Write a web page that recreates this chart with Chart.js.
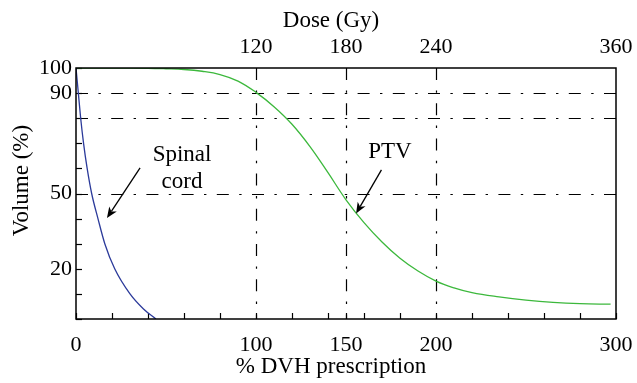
<!DOCTYPE html>
<html>
<head>
<meta charset="utf-8">
<script src="https://cdn.jsdelivr.net/npm/chart.js@4"></script>
<style>
  html, body { margin: 0; padding: 0; background: #fff; }
  #c { display: block; }
</style>
</head>
<body>
<canvas id="c" width="637" height="383"></canvas>
<script>
// ---- data ----
const cordX = [0, 1.3, 2.6, 4.2, 6.2, 8.7, 12.2, 16, 21.5, 30, 37.5, 44.4];
const cordY = [100, 90, 80, 70, 60, 50, 40, 30, 20, 10, 4, 0];

const ptvX = [0, 20, 40, 50, 60, 70, 80, 90, 100, 110, 120, 130, 140, 150, 160, 170, 180, 190, 200, 210, 220, 235, 250, 265, 280, 297];
const ptvY = [100, 100, 99.9, 99.7, 99.4, 98.7, 97.4, 94.8, 90.3, 84.6, 77.6, 68.7, 58.3, 47.5, 38.4, 30.7, 24.2, 19.1, 15.1, 12.4, 10.5, 8.8, 7.5, 6.6, 6.1, 5.9];

const xTickValues = [0,20,40,60,80,100,120,140,150,160,180,200,220,240,260,280,300];
const xTickLabels = [0, 100, 150, 200, 300];
const doseTickLabels = [120, 180, 240, 360];
const yTickValues = [0,10,20,30,40,50,60,70,80,90,100];
const yTickLabels = [100, 90, 50, 20];
const refX = [100, 150, 200];
const refY = [90, 80, 50];

const titleX = '% DVH prescription';
const titleTop = 'Dose (Gy)';
const titleY = 'Volume (%)';
const labelSpinal = ['Spinal', 'cord'];
const labelPTV = 'PTV';

// ---- chart ----
const FONT = "'Liberation Serif', 'Times New Roman', serif";
const tickFont = { family: FONT, size: 22 };

const toPts = (xs, ys) => xs.map((x, i) => ({ x, y: ys[i] }));

const decor = {
  id: 'decor',
  beforeDatasetsDraw(chart) {
    const { ctx, chartArea: a, scales: { x, y } } = chart;
    ctx.save();
    ctx.strokeStyle = '#000';
    ctx.lineWidth = 1.2;
    ctx.setLineDash([12, 10.4, 2.4, 10.4]);
    refY.forEach(v => {
      const py = Math.round(y.getPixelForValue(v)) + 0.5;
      ctx.beginPath(); ctx.moveTo(a.left, py); ctx.lineTo(a.right, py); ctx.stroke();
    });
    refX.forEach(v => {
      const px = Math.round(x.getPixelForValue(v)) + 0.5;
      ctx.beginPath(); ctx.moveTo(px, a.top); ctx.lineTo(px, a.bottom); ctx.stroke();
    });
    ctx.setLineDash([]);
    yTickValues.forEach(v => {
      const py = Math.round(y.getPixelForValue(v)) + 0.5;
      ctx.beginPath(); ctx.moveTo(a.left, py); ctx.lineTo(a.left + 6, py); ctx.stroke();
    });
    xTickValues.forEach(v => {
      const px = Math.round(x.getPixelForValue(v)) + 0.5;
      ctx.beginPath(); ctx.moveTo(px, a.bottom); ctx.lineTo(px, a.bottom - 6); ctx.stroke();
    });
    ctx.restore();
  },
  afterDatasetsDraw(chart) {
    const { ctx, chartArea: a, scales: { x, y } } = chart;
    ctx.save();
    ctx.strokeStyle = '#000';
    ctx.lineWidth = 1.5;
    ctx.strokeRect(a.left, a.top, a.right - a.left, a.bottom - a.top);

    ctx.fillStyle = '#000';
    ctx.font = `23px ${FONT}`;
    ctx.textAlign = 'center';
    ctx.textBaseline = 'middle';

    // axis titles
    const cx = (a.left + a.right) / 2 - 15;
    ctx.fillText(titleTop, cx, 21);
    ctx.fillText(titleX, cx, 367);
    ctx.save();
    ctx.translate(22, (a.top + a.bottom) / 2 - 13);
    ctx.rotate(-Math.PI / 2);
    ctx.fillText(titleY, 0, 0);
    ctx.restore();

    // annotations
    ctx.fillText(labelSpinal[0], x.getPixelForValue(58.9), y.getPixelForValue(65.3));
    ctx.fillText(labelSpinal[1], x.getPixelForValue(58.9), y.getPixelForValue(54.6));
    ctx.fillText(labelPTV, x.getPixelForValue(174.4), y.getPixelForValue(66.5));

    const arrow = (x0, y0, x1, y1) => {
      const X0 = x.getPixelForValue(x0), Y0 = y.getPixelForValue(y0);
      const X1 = x.getPixelForValue(x1), Y1 = y.getPixelForValue(y1);
      const ang = Math.atan2(Y1 - Y0, X1 - X0);
      const L = 11, W = 4.5;
      const bx = X1 - L * Math.cos(ang), by = Y1 - L * Math.sin(ang);
      ctx.lineWidth = 1.3;
      ctx.beginPath(); ctx.moveTo(X0, Y0); ctx.lineTo(bx + 3 * Math.cos(ang), by + 3 * Math.sin(ang)); ctx.stroke();
      ctx.beginPath();
      ctx.moveTo(X1, Y1);
      ctx.lineTo(bx + W * Math.sin(ang), by - W * Math.cos(ang));
      ctx.lineTo(bx + 3 * Math.cos(ang), by + 3 * Math.sin(ang));
      ctx.lineTo(bx - W * Math.sin(ang), by + W * Math.cos(ang));
      ctx.closePath(); ctx.fill();
    };
    arrow(35.6, 60.2, 17.2, 40.2);
    arrow(169.7, 59.4, 155.6, 42);
    ctx.restore();
  }
};

const noPad = s => { s.paddingLeft = 0; s.paddingRight = 0; };

new Chart(document.getElementById('c'), {
  type: 'line',
  data: {
    datasets: [
      { label: 'Spinal cord', data: toPts(cordX, cordY), borderColor: '#2b3a9a', borderWidth: 1.3,
        pointRadius: 0, cubicInterpolationMode: 'monotone', fill: false, xAxisID: 'x', yAxisID: 'y' },
      { label: 'PTV', data: toPts(ptvX, ptvY), borderColor: '#3cb83c', borderWidth: 1.3,
        pointRadius: 0, tension: 0.4, fill: false, xAxisID: 'x', yAxisID: 'y' }
    ]
  },
  options: {
    responsive: false,
    animation: false,
    layout: { padding: { left: 0, right: 21, top: 0, bottom: 0 } },
    plugins: { legend: { display: false }, tooltip: { enabled: false } },
    scales: {
      x: {
        type: 'linear', position: 'bottom', min: 0, max: 300,
        afterBuildTicks: s => { s.ticks = xTickValues.map(v => ({ value: v })); },
        afterFit: s => { s.height = 64; noPad(s); },
        ticks: { autoSkip: false, maxRotation: 0, padding: 13, color: '#000', font: tickFont,
                 callback: v => xTickLabels.includes(v) ? String(v) : '' },
        grid: { display: false, drawTicks: false },
        border: { display: false }
      },
      x2: {
        type: 'linear', position: 'top', min: 0, max: 360,
        afterBuildTicks: s => { s.ticks = doseTickLabels.map(v => ({ value: v })); },
        afterFit: s => { s.height = 68; noPad(s); },
        ticks: { autoSkip: false, maxRotation: 0, padding: 8, color: '#000', font: tickFont,
                 callback: v => String(v) },
        grid: { display: false, drawTicks: false },
        border: { display: false }
      },
      y: {
        type: 'linear', position: 'left', min: 0, max: 100,
        afterBuildTicks: s => { s.ticks = yTickValues.map(v => ({ value: v })); },
        afterFit: s => { s.width = 76; },
        ticks: { autoSkip: false, padding: 4, color: '#000', font: tickFont,
                 callback: v => yTickLabels.includes(v) ? String(v) : '' },
        grid: { display: false, drawTicks: false },
        border: { display: false }
      }
    }
  },
  plugins: [decor]
});
</script>
</body>
</html>
